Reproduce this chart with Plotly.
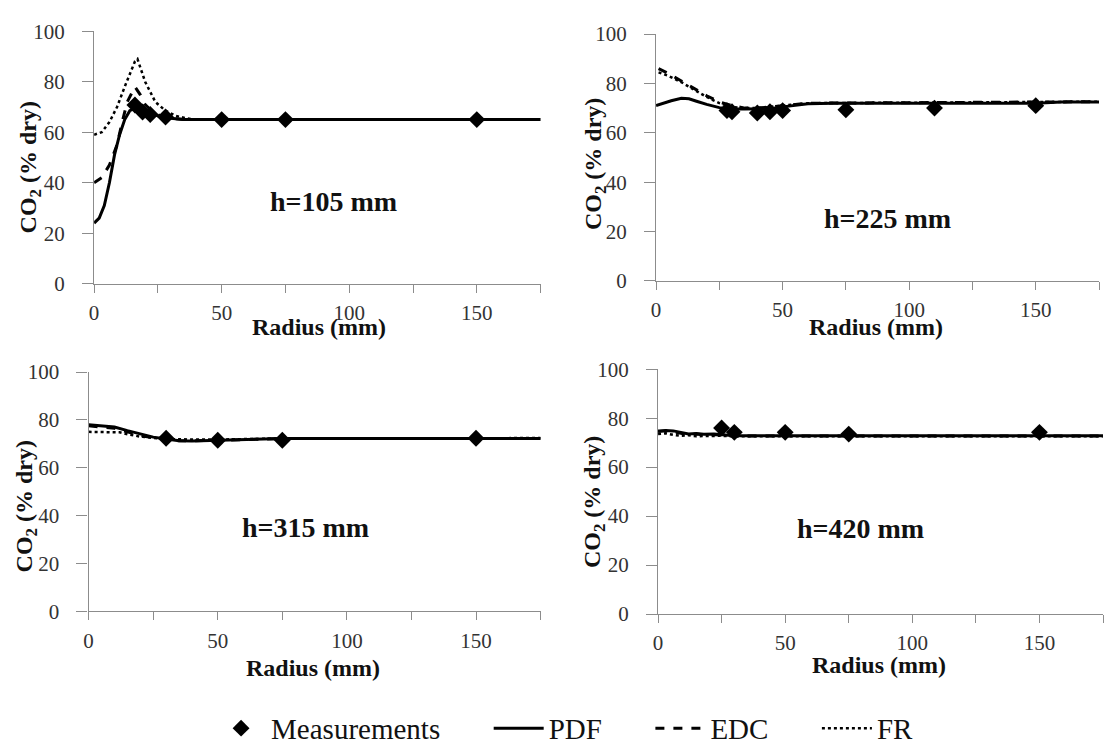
import plotly.graph_objects as go

# ---------------- data ----------------
panel_titles = ["h=105 mm", "h=225 mm", "h=315 mm", "h=420 mm"]

# h = 105 mm
meas1_r = [16, 19, 22, 28, 50, 75, 150]
meas1_v = [70.8, 68, 67, 66, 65, 65, 65]
pdf1_r = [0, 2, 4, 6, 8, 10, 12, 14, 16, 18, 20, 25, 30, 35, 40, 175]
pdf1_v = [24, 26, 31, 40, 51, 59, 65, 68.5, 69.5, 69, 68, 66.5, 65.5, 65, 65, 65]
edc1_r = [0, 3, 6, 9, 11, 13, 16, 18, 20, 23, 26, 30, 35, 40, 175]
edc1_v = [40, 42, 47, 55, 64, 72, 78, 75, 71, 68, 66.5, 65.5, 65, 65, 65]
fr1_r = [0, 3, 6, 9, 12, 16, 17, 20, 24, 28, 32, 36, 40, 175]
fr1_v = [59, 60, 64, 70, 78, 88, 89, 80, 72, 68.5, 66.5, 65.5, 65, 65]

# h = 225 mm
meas2_r = [28, 30, 40, 45, 50, 75, 110, 150]
meas2_v = [69, 68.5, 68, 68.5, 69, 69.3, 70, 71]
pdf2_r = [0, 3, 6, 10, 13, 16, 20, 25, 30, 35, 40, 45, 50, 55, 60, 70, 80, 90, 100,
          110, 120, 130, 140, 150, 160, 175]
pdf2_v = [71, 72, 73, 74, 73.8, 72.8, 71.5, 70.2, 69.6, 69.6, 69.6, 69.8, 70.5, 71.3,
          71.8, 72, 72, 72, 72, 72, 71.8, 71.8, 71.8, 72, 72.5, 72.5]
edc2_r = [1, 5, 10, 15, 20, 25, 30, 35, 40, 50, 60, 100, 150, 175]
edc2_v = [86, 84, 81, 78, 75, 72.5, 71, 70, 70, 71, 72, 72.2, 72.3, 72.6]
fr2_r = [1, 5, 10, 15, 20, 25, 30, 35, 40, 50, 60, 100, 150, 175]
fr2_v = [84.5, 83, 80.5, 77.5, 74.5, 72, 70.5, 70, 70, 71, 72, 72.2, 72.3, 72.6]

# h = 315 mm
meas3_r = [30, 50, 75, 150]
meas3_v = [72.3, 71.5, 71.5, 72.3]
pdf3_r = [0, 5, 10, 15, 20, 25, 30, 35, 40, 50, 60, 70, 75, 100, 150, 175]
pdf3_v = [78, 77.5, 77, 75.5, 74, 72.8, 72, 71.3, 71.2, 71.5, 71.5, 71.8, 72.2, 72.2, 72.3, 72.2]
edc3_r = [0, 5, 10, 15, 20, 25, 30, 35, 40, 50, 60, 70, 75, 100, 150, 175]
edc3_v = [77.5, 77, 76.5, 75, 73.5, 72.5, 71.8, 71.3, 71.2, 71.5, 71.6, 71.9, 72.2, 72.2, 72.3, 72.2]
fr3_r = [0, 5, 10, 12, 15, 20, 25, 30, 40, 50, 75, 100, 150, 175]
fr3_v = [75, 75, 75, 74.8, 74, 73, 72.5, 72, 71.8, 71.8, 72.2, 72.3, 72.4, 72.4]

# h = 420 mm
meas4_r = [25, 30, 50, 75, 150]
meas4_v = [76, 74.2, 74.2, 73.5, 74.2]
pdf4_r = [0, 3, 6, 9, 12, 15, 18, 22, 25, 30, 175]
pdf4_v = [74.5, 75, 74.8, 74, 73.5, 73.7, 73.4, 73.5, 73.2, 72.8, 72.8]
edc4_r = [0, 3, 6, 9, 12, 15, 18, 22, 25, 30, 175]
edc4_v = [74.8, 74.9, 74.5, 73.8, 73.2, 73.5, 73.2, 73.3, 73, 72.7, 72.7]
fr4_r = [0, 3, 6, 9, 12, 15, 18, 22, 25, 30, 175]
fr4_v = [73.5, 73.8, 73.2, 72.8, 73, 72.6, 72.7, 72.9, 72.8, 72.6, 72.6]

x_ticks = [0, 50, 100, 150]
y_ticks = [0, 20, 40, 60, 80, 100]

panels = [
    (meas1_r, meas1_v, pdf1_r, pdf1_v, edc1_r, edc1_v, fr1_r, fr1_v),
    (meas2_r, meas2_v, pdf2_r, pdf2_v, edc2_r, edc2_v, fr2_r, fr2_v),
    (meas3_r, meas3_v, pdf3_r, pdf3_v, edc3_r, edc3_v, fr3_r, fr3_v),
    (meas4_r, meas4_v, pdf4_r, pdf4_v, edc4_r, edc4_v, fr4_r, fr4_v),
]

# ---------------- layout geometry (pixels) ----------------
W, H = 1106, 754
boxes = [  # x0, x1, ytop, ybottom in pixels
    (89.5, 538, 20, 283),
    (654, 1099, 23, 280),
    (84, 538, 375, 624),
    (656, 1103, 372, 627),
]
label_pos = [(94, 32.7), (91.4, 25.3), (83.8, 35), (79.5, 34.8)]
ytitle_px = [(25, 162), (592, 158), (21, 515), (591, 510)]
xtitle_px = [(315, 328), (875, 328), (309, 683), (878, 680)]

SERIF = "Liberation Serif"
AXIS_GRAY = "#8c8c8c"
TEXT = "#333333"
NB = "\u00a0" * 6

fig = go.Figure()
annotations = []

for i, (mr, mv, pr, pv, er, ev, fr, fv) in enumerate(panels):
    k = "" if i == 0 else str(i + 1)
    xa, ya = "x" + k, "y" + k
    show = i == 0
    fig.add_trace(go.Scatter(x=fr, y=fv, mode="lines", name="FR", xaxis=xa, yaxis=ya,
                             line=dict(color="black", width=2.5, dash="dot"),
                             legendgroup="FR", showlegend=show, legendrank=4))
    fig.add_trace(go.Scatter(x=er, y=ev, mode="lines", name="EDC" + NB, xaxis=xa, yaxis=ya,
                             line=dict(color="black", width=3, dash="dash"),
                             legendgroup="EDC", showlegend=show, legendrank=3))
    fig.add_trace(go.Scatter(x=pr, y=pv, mode="lines", name="PDF" + NB, xaxis=xa, yaxis=ya,
                             line=dict(color="black", width=3),
                             legendgroup="PDF", showlegend=show, legendrank=2))
    fig.add_trace(go.Scatter(x=mr, y=mv, mode="markers", name="Measurements" + NB,
                             xaxis=xa, yaxis=ya,
                             marker=dict(symbol="diamond", size=13, color="black"),
                             legendgroup="M", showlegend=show, legendrank=1))

    x0, x1, yt, yb = boxes[i]
    common = dict(showline=True, linecolor=AXIS_GRAY, linewidth=1.3, ticks="outside",
                  tickcolor=AXIS_GRAY, tickwidth=1.3, showgrid=False,
                  zeroline=False, tickfont=dict(family=SERIF, size=21, color=TEXT),
                  fixedrange=True)
    fig.update_layout(**{
        "xaxis" + k: dict(domain=[x0 / W, x1 / W], range=[0, 175], anchor=ya,
                          tickvals=x_ticks, ticklen=8, ticklabelstandoff=2,
                          minor=dict(dtick=25, tick0=0, ticks="outside", ticklen=8,
                                     tickcolor=AXIS_GRAY, tickwidth=1.3),
                          **common),
        "yaxis" + k: dict(domain=[1 - yb / H, 1 - yt / H], range=[0, 100], anchor=xa,
                          tickvals=y_ticks, ticklen=11, ticklabelstandoff=13, **common),
    })
    lx, ly = label_pos[i]
    annotations.append(dict(x=lx, y=ly, xref=xa, yref=ya, text="<b>%s</b>" % panel_titles[i],
                            xanchor="center", yanchor="middle",
                            showarrow=False, font=dict(family=SERIF, size=28, color="#111111")))
    tx, ty = ytitle_px[i]
    annotations.append(dict(x=tx / W, y=1 - ty / H, xref="paper", yref="paper",
                            text="<b>CO<sub>2</sub> (% dry)</b>", textangle=-90,
                            xanchor="center", yanchor="middle",
                            showarrow=False, font=dict(family=SERIF, size=24, color="#111111")))
    tx, ty = xtitle_px[i]
    annotations.append(dict(x=tx / W, y=1 - ty / H, xref="paper", yref="paper",
                            text="<b>Radius (mm)</b>", xanchor="center", yanchor="middle",
                            showarrow=False, font=dict(family=SERIF, size=24, color="#111111")))

fig.update_layout(
    width=W, height=H,
    margin=dict(l=0, r=0, t=0, b=0),
    paper_bgcolor="white", plot_bgcolor="white",
    annotations=annotations,
    showlegend=True,
    legend=dict(orientation="h", x=207 / W, y=1 - 746 / H, xanchor="left", yanchor="middle",
                font=dict(family=SERIF, size=29, color="#111111"),
                itemwidth=50, bgcolor="rgba(0,0,0,0)", tracegroupgap=0),
)

fig.write_html("out.html")
